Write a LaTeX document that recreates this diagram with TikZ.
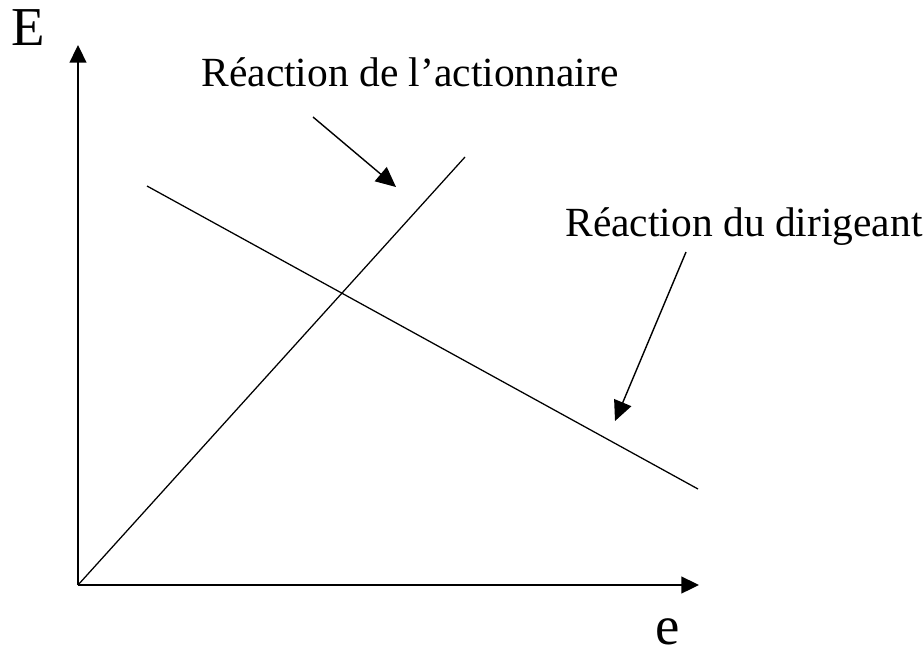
\documentclass[tikz,border=0pt]{standalone}
\usepackage{fontspec}
\setmainfont{Liberation Serif}
\usetikzlibrary{arrows.meta,positioning,calc}

\begin{document}
\begin{tikzpicture}[x=0.025cm,y=-0.025cm,>={Triangle[length=4.4mm,width=4.2mm]},
  ax/.style={->,line width=1.1pt},
  crv/.style={line width=0.9pt},
  pt/.style={->,line width=1pt},
  lb/.style={font=\fontsize{29.5}{33}\selectfont,inner sep=0pt},
  big/.style={font=\fontsize{39}{42}\selectfont,inner sep=0pt}]
  \useasboundingbox (0,0) rectangle (924,659);
  \coordinate (O) at (78,585);
  \coordinate (Ytop) at (78,45);
  \coordinate (Xend) at (699,585);
  \draw[ax] (O) -- (Ytop);
  \draw[ax] (O) -- (Xend);
  \node[big] (E) at (28,28) {E};
  \node[big] (e) at (668,632) {e};
  % courbes de reaction
  \coordinate (A1) at (465,157);
  \coordinate (D0) at (147,186);
  \coordinate (D1) at (698,489);
  \draw[crv] (O) -- (A1);
  \draw[crv] (D0) -- (D1);
  % legendes
  \node[lb] (la) at (410,72) {Réaction de l’actionnaire};
  \node[lb] (ld) at (744,227) {Réaction du dirigeant};
  \coordinate (a0) at (313,117);
  \coordinate (a1) at (396,187);
  \coordinate (d0) at (686,252);
  \coordinate (d1) at (615,421);
  \draw[pt,>={Triangle[length=5mm,width=4.6mm]}] (a0) -- (a1);
  \draw[pt,>={Triangle[length=5mm,width=4.6mm]}] (d0) -- (d1);
\end{tikzpicture}
\end{document}
